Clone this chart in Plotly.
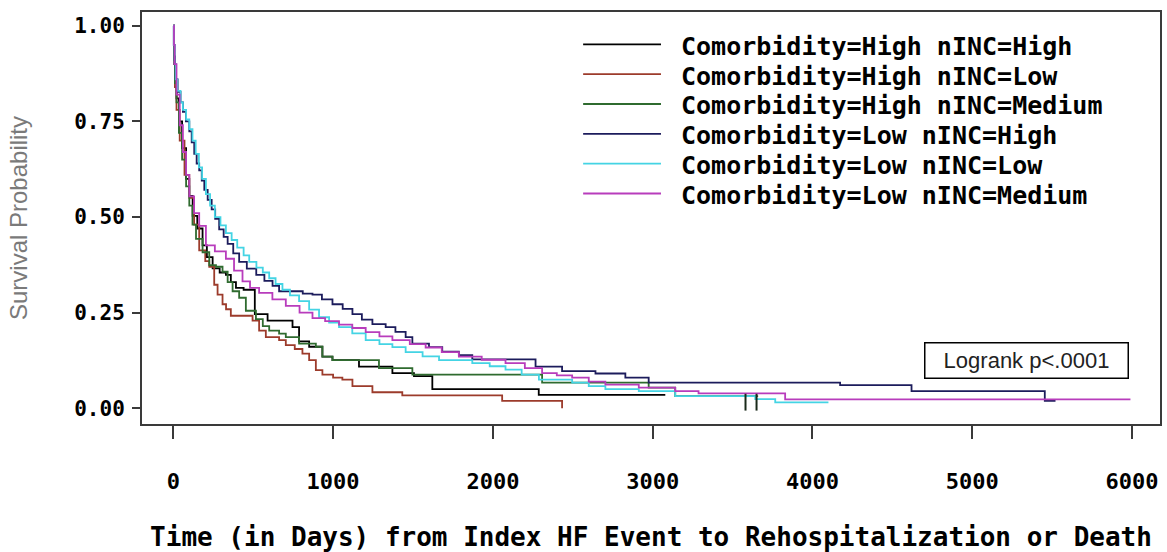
import plotly.graph_objects as go

# ---------------- data ----------------
series_names = [
    "Comorbidity=High nINC=High",
    "Comorbidity=High nINC=Low",
    "Comorbidity=High nINC=Medium",
    "Comorbidity=Low nINC=High",
    "Comorbidity=Low nINC=Low",
    "Comorbidity=Low nINC=Medium",
]
series_colors = ["#000000", "#9c3b2b", "#2f6b2f", "#1c1c5c", "#44d4e4", "#b83cbc"]

hh_t = [0, 4, 10, 20, 35, 55, 80, 100, 121, 150, 183, 210, 246, 290, 329, 360, 392, 440,
        510, 590, 746, 787, 850, 933, 996, 1162, 1371, 1506, 1621, 2287, 3079]
hh_s = [1.0, 0.92, 0.86, 0.81, 0.75, 0.68, 0.60, 0.555, 0.503, 0.47, 0.426, 0.395, 0.366,
        0.355, 0.349, 0.33, 0.315, 0.31, 0.246, 0.229, 0.212, 0.175, 0.161, 0.135, 0.126,
        0.109, 0.092, 0.084, 0.05, 0.035, 0.035]

hl_t = [0, 4, 10, 20, 40, 70, 100, 130, 162, 200, 225, 256, 277, 308, 330, 360, 496, 537,
        579, 662, 704, 760, 808, 850, 892, 933, 1000, 1058, 1121, 1246, 1433, 2058, 2433]
hl_s = [1.0, 0.90, 0.84, 0.78, 0.70, 0.61, 0.55, 0.48, 0.413, 0.385, 0.37, 0.323, 0.297,
        0.272, 0.259, 0.242, 0.229, 0.203, 0.186, 0.178, 0.165, 0.155, 0.143, 0.126, 0.10,
        0.088, 0.08, 0.075, 0.058, 0.042, 0.034, 0.0197, 0.0]

hm_t = [0, 4, 10, 20, 35, 55, 80, 100, 120, 142, 183, 225, 267, 308, 340, 371, 412, 454,
        517, 560, 600, 662, 704, 787, 892, 933, 996, 1287, 1496, 2308, 2975, 3141, 3660]
hm_s = [1.0, 0.91, 0.85, 0.80, 0.72, 0.65, 0.58, 0.53, 0.48, 0.443, 0.408, 0.374, 0.37,
        0.357, 0.33, 0.306, 0.289, 0.255, 0.233, 0.215, 0.203, 0.195, 0.186, 0.169, 0.161,
        0.135, 0.126, 0.105, 0.088, 0.067, 0.054, 0.032, 0.032]

lh_t = [0, 3, 8, 15, 27, 45, 60, 79, 100, 115, 131, 146, 162, 178, 194, 215, 240, 262, 287,
        315, 340, 375, 412, 460, 519, 570, 621, 662, 810, 871, 930, 996, 1060, 1121, 1180,
        1246, 1329, 1390, 1454, 1496, 1600, 1683, 1787, 1871, 2267, 2433, 2642, 2829, 2975,
        4173, 4620, 5454, 5521]
lh_s = [1.0, 0.95, 0.90, 0.86, 0.827, 0.80, 0.775, 0.75, 0.724, 0.695, 0.665, 0.64, 0.622,
        0.595, 0.571, 0.545, 0.52, 0.495, 0.468, 0.448, 0.43, 0.405, 0.383, 0.365, 0.349,
        0.333, 0.32, 0.306, 0.30, 0.297, 0.285, 0.272, 0.26, 0.246, 0.232, 0.22, 0.212, 0.20,
        0.186, 0.169, 0.16, 0.148, 0.139, 0.128, 0.109, 0.097, 0.091, 0.08, 0.067, 0.0606,
        0.045, 0.0197, 0.0197]

ll_t = [0, 3, 8, 15, 25, 45, 60, 80, 100, 120, 140, 160, 180, 204, 230, 260, 295, 329, 365,
        400, 440, 475, 520, 560, 600, 640, 683, 730, 787, 850, 912, 975, 1037, 1120, 1204,
        1290, 1371, 1454, 1560, 1663, 1871, 1980, 2079, 2180, 2288, 2496, 2600, 2704, 2913,
        3141, 3642, 3767, 4100]
ll_s = [1.0, 0.95, 0.90, 0.86, 0.83, 0.80, 0.78, 0.755, 0.73, 0.70, 0.665, 0.63, 0.60, 0.56,
        0.53, 0.50, 0.478, 0.458, 0.44, 0.42, 0.40, 0.383, 0.368, 0.355, 0.34, 0.325, 0.31,
        0.295, 0.28, 0.258, 0.238, 0.224, 0.212, 0.196, 0.178, 0.168, 0.16, 0.147, 0.136,
        0.126, 0.118, 0.11, 0.101, 0.088, 0.075, 0.067, 0.058, 0.05, 0.045, 0.032, 0.024,
        0.0156, 0.0156]

lm_t = [0, 4, 8, 20, 40, 60, 80, 100, 130, 162, 204, 260, 329, 380, 433, 480, 537, 620, 704,
        790, 871, 950, 1037, 1120, 1204, 1290, 1371, 1480, 1579, 1680, 1787, 1930, 2079,
        2200, 2308, 2400, 2496, 2600, 2704, 2913, 3141, 3287, 3829, 5990]
lm_s = [1.0, 0.95, 0.90, 0.82, 0.74, 0.67, 0.61, 0.554, 0.51, 0.477, 0.426, 0.41, 0.391,
        0.36, 0.332, 0.315, 0.302, 0.285, 0.268, 0.25, 0.236, 0.228, 0.219, 0.21, 0.199,
        0.188, 0.178, 0.168, 0.159, 0.147, 0.135, 0.127, 0.118, 0.105, 0.092, 0.086, 0.08,
        0.07, 0.062, 0.054, 0.045, 0.039, 0.0236, 0.0236]

series_t = [hh_t, hl_t, hm_t, lh_t, ll_t, lm_t]
series_s = [hh_s, hl_s, hm_s, lh_s, ll_s, lm_s]

# censored observations (tick marks) on the High/Medium curve
cens_t = [3581, 3650]
cens_s = [0.016, 0.016]

x_ticks = [0, 1000, 2000, 3000, 4000, 5000, 6000]
y_ticks = [0.0, 0.25, 0.5, 0.75, 1.0]
y_ticklabels = ["0.00", "0.25", "0.50", "0.75", "1.00"]

# ---------------- figure ----------------
W, H = 1167, 552
ML, MR, MT, MB = 142, 5, 12, 120
PW, PH = W - ML - MR, H - MT - MB

def px_x(px):
    return (px - ML) / PW

def px_y(py):
    return (H - MB - py) / PH

fig = go.Figure()
for name, color, t, s in zip(series_names, series_colors, series_t, series_s):
    fig.add_trace(go.Scatter(x=t, y=s, mode="lines", name=name,
                             line=dict(shape="hv", color=color, width=1.8)))

fig.add_trace(go.Scatter(x=cens_t, y=cens_s, mode="markers", showlegend=False,
                         marker=dict(symbol="line-ns", size=12,
                                     line=dict(color="#1a2a1a", width=2))))

mono = "DejaVu Sans Mono"
frame = "#3a3a3a"

fig.update_layout(
    width=W, height=H,
    margin=dict(l=ML, r=MR, t=MT, b=MB),
    paper_bgcolor="white", plot_bgcolor="white",
    showlegend=False,
    xaxis=dict(
        range=[-196, 6175], tickvals=x_ticks, ticks="outside", ticklen=13,
        tickwidth=2, tickcolor=frame, showline=True, mirror=True, linewidth=2,
        linecolor=frame, showgrid=False, zeroline=False,
        tickfont=dict(family=mono, size=22, color="black", weight="bold"),
        ticklabelstandoff=24,
        title=dict(text="Time (in Days) from Index HF Event to Rehospitalization or Death",
                   font=dict(family=mono, size=26, color="black", weight="bold"),
                   standoff=34),
    ),
    yaxis=dict(
        range=[-0.041, 1.036], tickvals=y_ticks, ticktext=y_ticklabels, ticks="outside",
        ticklen=8, tickwidth=2, tickcolor=frame, showline=True, mirror=True, linewidth=2,
        linecolor=frame, showgrid=False, zeroline=False,
        tickfont=dict(family=mono, size=21, color="black", weight="bold"),
        ticklabelstandoff=3,
        title=dict(text="Survival Probability",
                   font=dict(family="Liberation Sans", size=24, color="#7a7a7a"),
                   standoff=40),
    ),
)

# legend drawn in SAS style: long line sample followed by the label
row0, row_gap = 47, 30.4
for i, (name, color) in enumerate(zip(series_names, series_colors)):
    cy = row0 + row_gap * i
    fig.add_shape(type="line", xref="paper", yref="paper",
                  x0=px_x(584), x1=px_x(662), y0=px_y(cy - 2), y1=px_y(cy - 2),
                  line=dict(color=color, width=1.8))
    fig.add_annotation(xref="paper", yref="paper", x=px_x(680), y=px_y(cy),
                       xanchor="left", yanchor="middle", showarrow=False, text=name,
                       font=dict(family=mono, size=25, color="black", weight="bold"))

fig.add_annotation(xref="paper", yref="paper", x=px_x(1028), y=px_y(367),
                   xanchor="center", yanchor="middle", showarrow=False,
                   text="Logrank p<.0001",
                   font=dict(family="Liberation Sans", size=22, color="#222222"),
                   bordercolor="black", borderwidth=1.5, borderpad=3,
                   bgcolor="white", width=196, height=28)

fig.write_html("out.html")
